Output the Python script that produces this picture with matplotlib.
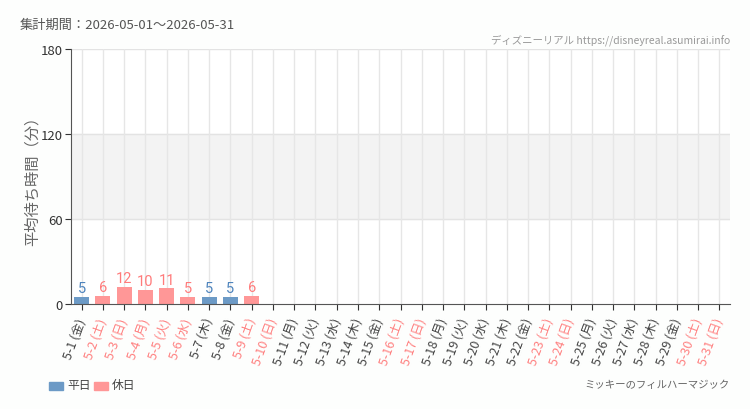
import matplotlib
matplotlib.use("Agg")
import matplotlib.pyplot as plt
from matplotlib.patches import Rectangle

plt.rcParams['font.family'] = ['Noto Sans CJK JP', 'DejaVu Sans']

days = [f"5-{d}" for d in range(1, 32)]
weekdays = ["金", "土", "日", "月", "火", "水", "木", "金", "土", "日", "月", "火", "水", "木", "金",
            "土", "日", "月", "火", "水", "木", "金", "土", "日", "月", "火", "水", "木", "金", "土", "日"]
holiday = [0, 1, 1, 1, 1, 1, 0, 0, 1, 1, 0, 0, 0, 0, 0, 1, 1, 0, 0, 0, 0, 0, 1, 1, 0, 0, 0, 0, 0, 1, 1]
values = [5, 6, 12, 10, 11, 5, 5, 5, 6] + [None] * 22
yticks = [0, 60, 120, 180]

c_week_bar = "#6c9ac6"
c_hol_bar = "#ff9797"
c_week_txt = "#4e84bd"
c_hol_txt = "#ff7b7b"
c_week_lbl = "#444444"
c_hol_lbl = "#ff8080"

fig = plt.figure(figsize=(7.5, 4.1), dpi=100)
fig.patch.set_facecolor("#fdfefd")
ax = fig.add_axes([71/750, 1-305/410, (730-71)/750, (305-50)/410])
ax.set_facecolor("white")

n = len(days)
ax.set_xlim(-0.5, n - 0.5)
ax.set_ylim(0, 180)

ax.axhspan(60, 120, color="#f3f3f3", zorder=0)
for y in yticks[1:]:
    ax.axhline(y, color="#e3e3e3", lw=1, zorder=0.5)
for i in range(n):
    ax.axvline(i, color="#e6e6e6", lw=1, zorder=0.5)

for i, v in enumerate(values):
    if v is None:
        continue
    col = c_hol_bar if holiday[i] else c_week_bar
    ax.bar(i, v, width=0.7, color=col, zorder=2)
    ax.text(i, v + 1.2, str(v), ha="center", va="bottom", fontsize=10.5,
            color=c_hol_txt if holiday[i] else c_week_txt,
            family=["Roboto", "DejaVu Sans"], zorder=3)

ax.set_xticks(range(n))
labels = [f"{d} ({w})" for d, w in zip(days, weekdays)]
ax.set_xticklabels(labels, rotation=70, ha="right", va="center", rotation_mode="anchor", fontsize=9)
for lbl, h in zip(ax.get_xticklabels(), holiday):
    lbl.set_color(c_hol_lbl if h else c_week_lbl)

ax.set_yticks(yticks)
ax.set_yticklabels([str(t) for t in yticks], fontsize=9.5, color="#333333")
for s in ["top", "right"]:
    ax.spines[s].set_visible(False)
ax.spines["left"].set_color("#555555")
ax.spines["bottom"].set_color("#555555")
ax.tick_params(axis="y", length=4, color="#333333", pad=2)
ax.tick_params(axis="x", length=4, color="#333333", pad=6)

ax.set_ylabel("平均待ち時間（分）", fontsize=11, color="#666666")
ax.yaxis.set_label_coords(-(71-41)/659, 0.5)

fig.text(20/750, 1-25/410, "集計期間：2026-05-01～2026-05-31", fontsize=9.5, color="#555555", va="center")
fig.text(730/750, 1-40/410, "ディズニーリアル https://disneyreal.asumirai.info", fontsize=7.5,
         color="#999999", ha="right", va="center")
fig.text(730/750, 1-385/410, "ミッキーのフィルハーマジック", fontsize=7.5, color="#666666",
         ha="right", va="center")

fig.patches.append(Rectangle((49/750, 1-391/410), 14/750, 8/410, transform=fig.transFigure,
                             color=c_week_bar, figure=fig))
fig.text(67/750, 1-386/410, "平日", fontsize=8.5, color="#444444", va="center")
fig.patches.append(Rectangle((94/750, 1-391/410), 14/750, 8/410, transform=fig.transFigure,
                             color=c_hol_bar, figure=fig))
fig.text(112/750, 1-386/410, "休日", fontsize=8.5, color="#444444", va="center")

fig.savefig("out.png", dpi=100, facecolor=fig.get_facecolor())
